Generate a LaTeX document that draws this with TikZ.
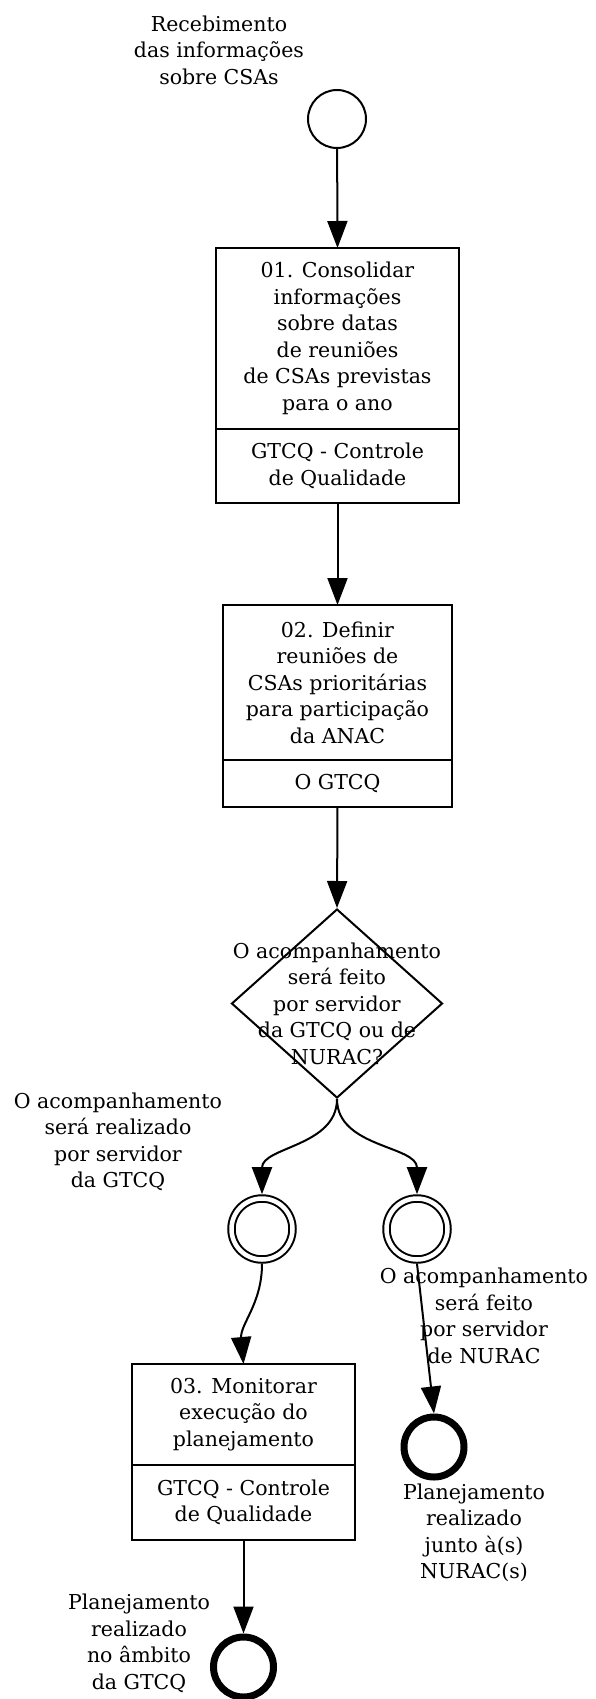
\documentclass[tikz,border=0pt]{standalone}
\usepackage{fontspec}
\setmainfont{DejaVu Serif}
\usetikzlibrary{shapes.geometric,arrows.meta}

\begin{document}
\begin{tikzpicture}[x=1pt, y=-1pt,
		font=\fontsize{20.5}{26.5}\selectfont,
		every node/.style={align=center, inner sep=0pt},
		task/.style={draw, line width=2pt, outer sep=0pt, minimum width=#1},
		flow/.style={-{Triangle[length=27pt,width=20pt]}, line width=2pt},
		evstart/.style={draw, circle, line width=2pt, minimum size=58pt},
		evmid/.style={draw, circle, double, double distance=4.5pt, line width=2pt, minimum size=61pt, outer sep=4.3pt},
		evend/.style={draw, circle, line width=7pt, minimum size=60pt}]
		\useasboundingbox (0,0) rectangle (595,1699);

		\node (lIni) at (219,50) {Recebimento\\das informações\\sobre CSAs};
		\node[evstart] (ini) at (337,119) {};

		\node[task=243pt, minimum height=181pt] (c1) at (337.5,338.5) {01. Consolidar\\informações\\sobre datas\\de reuniões\\de CSAs previstas\\para o ano};
		\node[task=243pt, minimum height=74pt] (c1r) at (337.5,466) {GTCQ - Controle\\de Qualidade};

		\node[task=229pt, minimum height=155pt] (c2) at (337.5,682.5) {02. Definir\\reuniões de\\CSAs prioritárias\\para participação\\da ANAC};
		\node[task=229pt, minimum height=47pt] (c2r) at (337.5,783.5) {O GTCQ};

		\node[draw, diamond, line width=2pt, minimum width=211pt, minimum height=189pt] (dec) at (337,1003.5) {};
		\node (decTxt) at (dec.center) {O acompanhamento\\será feito\\por servidor\\da GTCQ ou de\\NURAC?};

		\node (lG) at (118,1142) {O acompanhamento\\será realizado\\por servidor\\da GTCQ};
		\node[evmid] (evG) at (262,1229) {};
		\node[evmid] (evN) at (417,1229) {};
		\node (lN) at (484,1316) {O acompanhamento\\será feito\\por servidor\\de NURAC};

		\node[task=223pt, minimum height=101pt] (c3) at (243.5,1414.5) {03. Monitorar\\execução do\\planejamento};
		\node[task=223pt, minimum height=75pt] (c3r) at (243.5,1502.5) {GTCQ - Controle\\de Qualidade};

		\node[evend] (fimN) at (434,1447) {};
		\node (lFimN) at (474,1533) {Planejamento\\realizado\\junto à(s)\\NURAC(s)};

		\node[evend] (fimG) at (243.5,1667) {};
		\node (lFimG) at (139,1643.5) {Planejamento\\realizado\\no âmbito\\da GTCQ};

		\draw[flow] (ini) -- (c1.north);
		\draw[flow] (c1r.south) -- (c2.north);
		\draw[flow] (c2r.south) -- (dec.north);
		\draw[flow] (dec.south) to[out=-90, in=90] (evG.north);
		\draw[flow] (dec.south) to[out=-90, in=90] (evN.north);
		\draw[flow] (evG.south) to[out=-90, in=95] (c3.north);
		\draw[flow] (evN.south) -- (fimN.north);
		\draw[flow] (c3r.south) -- (fimG.north);
	\end{tikzpicture}
\end{document}
